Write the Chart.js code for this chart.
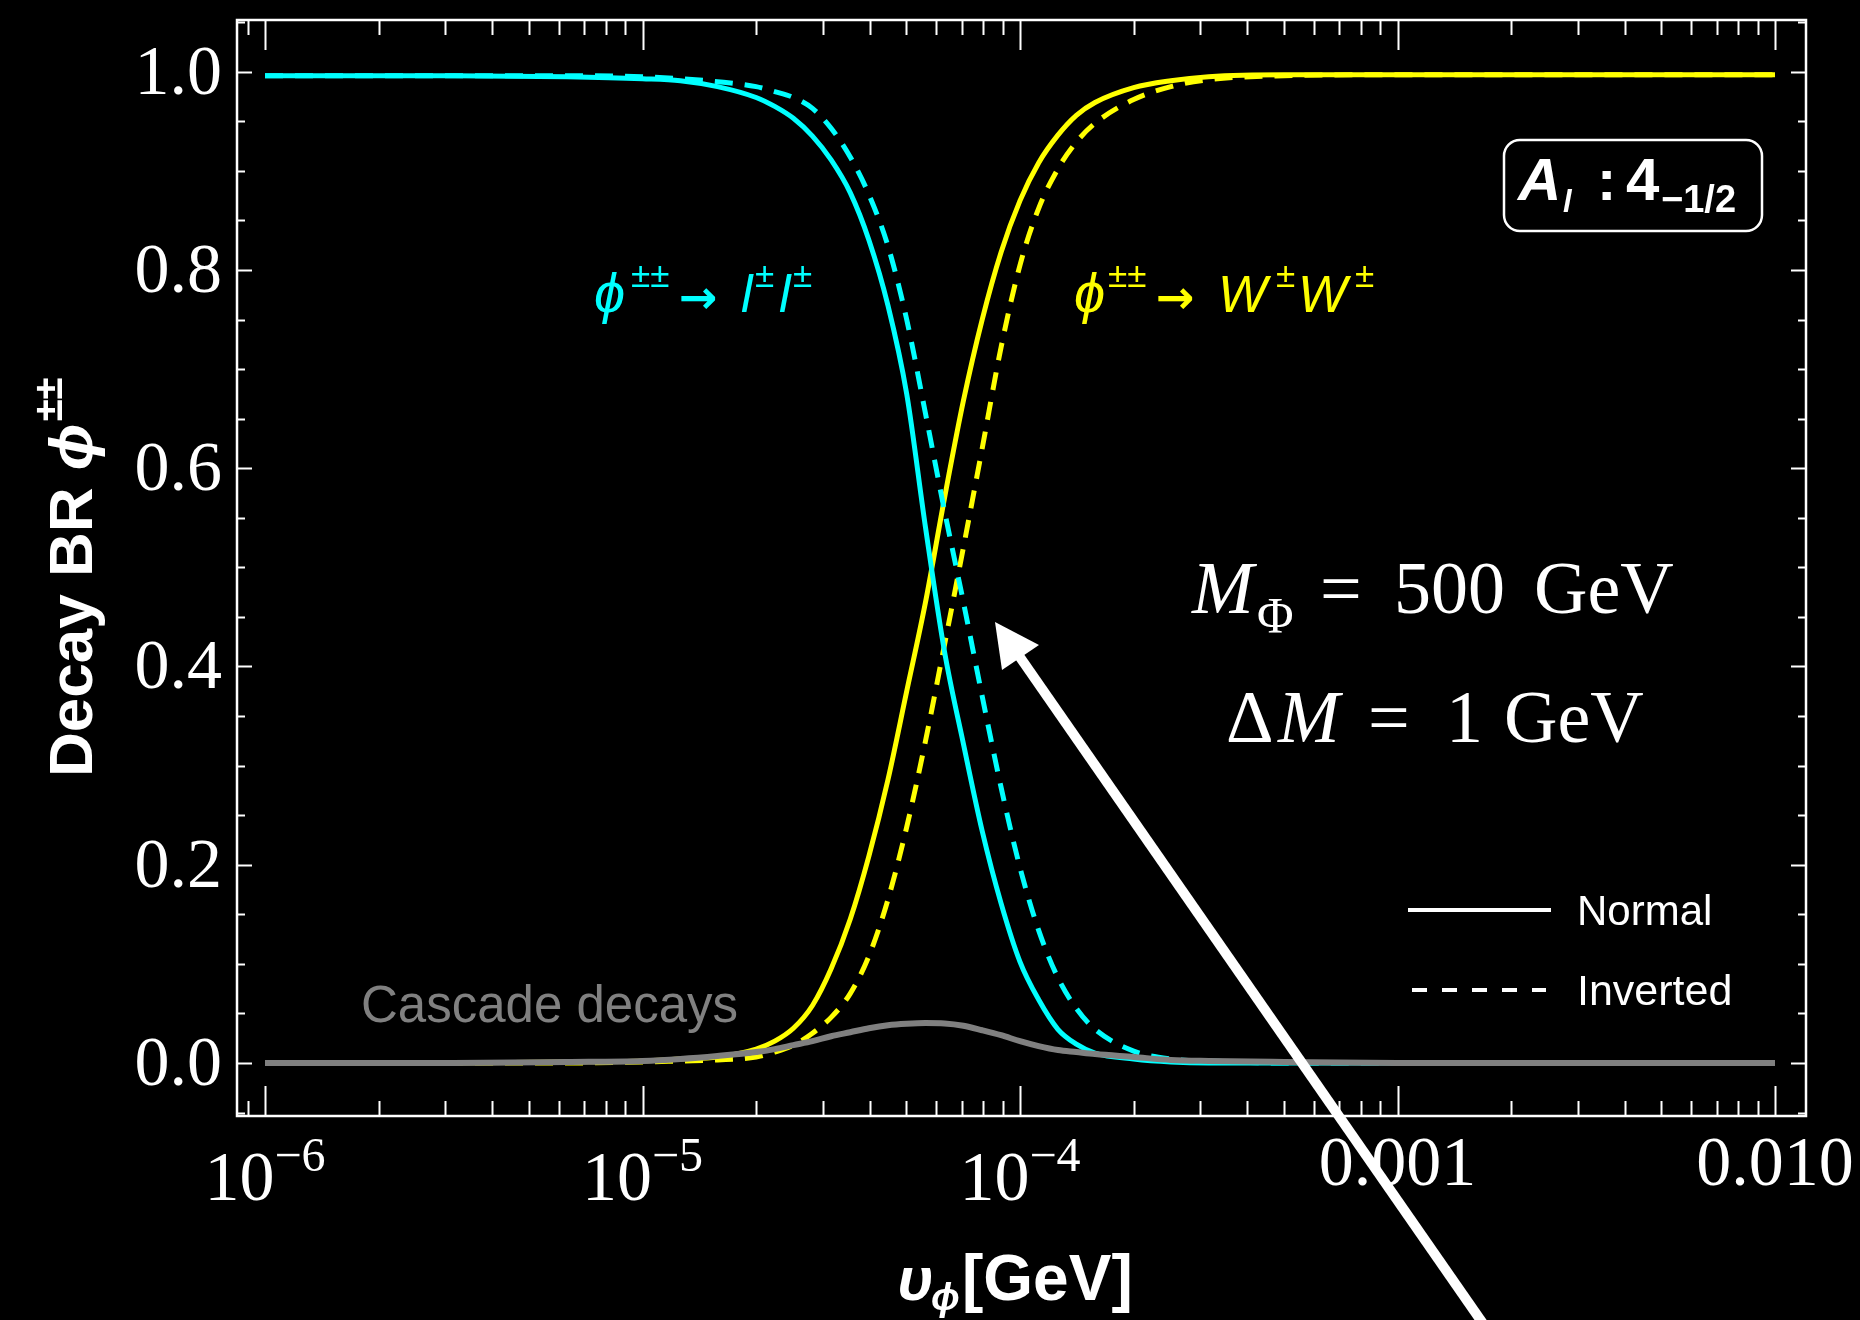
<!DOCTYPE html>
<html>
<head>
<meta charset="utf-8">
<script src="https://cdn.jsdelivr.net/npm/chart.js@4.4.1/dist/chart.umd.min.js"></script>
<style>
  html, body { margin: 0; padding: 0; background: #000; }
  canvas { display: block; }
</style>
</head>
<body>
<canvas id="brChart" width="1860" height="1320"></canvas>
<script>
const vPhi = [1e-6, 3.16e-6, 6.31e-6, 1e-5, 1.26e-5, 1.58e-5, 2.0e-5, 2.24e-5, 2.51e-5, 2.82e-5,
  3.16e-5, 3.55e-5, 3.98e-5, 4.47e-5, 5.01e-5, 5.62e-5, 6.31e-5, 7.08e-5, 7.94e-5, 8.91e-5,
  1e-4, 1.12e-4, 1.26e-4, 1.41e-4, 1.58e-4, 2.0e-4, 2.51e-4, 3.16e-4, 5.01e-4, 1e-3,
  3.16e-3, 1e-2];

// phi++ -> l l
const llNormal = [0.996, 0.996, 0.995, 0.993, 0.991, 0.985, 0.974, 0.965, 0.953, 0.935,
  0.911, 0.878, 0.830, 0.764, 0.675, 0.540, 0.415, 0.322, 0.234, 0.161,
  0.102, 0.064, 0.034, 0.019, 0.010, 0.004, 0.001, 0.0, 0.0, 0.0,
  0.0, 0.0];
const llInverted = [0.996, 0.996, 0.996, 0.995, 0.993, 0.990, 0.985, 0.980, 0.974, 0.963,
  0.943, 0.914, 0.876, 0.824, 0.750, 0.655, 0.557, 0.465, 0.370, 0.278,
  0.197, 0.134, 0.086, 0.055, 0.034, 0.012, 0.004, 0.002, 0.0, 0.0,
  0.0, 0.0];

// phi++ -> W W
const wwNormal = [0.0, 0.0, 0.001, 0.002, 0.004, 0.006, 0.014, 0.022, 0.035, 0.058,
  0.095, 0.145, 0.209, 0.286, 0.375, 0.465, 0.570, 0.668, 0.750, 0.818,
  0.870, 0.908, 0.936, 0.956, 0.969, 0.984, 0.991, 0.995, 0.997, 0.997,
  0.997, 0.997];
const wwInverted = [0.0, 0.0, 0.0, 0.001, 0.002, 0.003, 0.006, 0.011, 0.018, 0.030,
  0.046, 0.070, 0.108, 0.165, 0.238, 0.325, 0.422, 0.520, 0.620, 0.722,
  0.805, 0.862, 0.902, 0.929, 0.948, 0.972, 0.985, 0.992, 0.996, 0.997,
  0.997, 0.997];

// cascade decays
const cascade = [0.0, 0.0, 0.001, 0.002, 0.004, 0.007, 0.011, 0.014, 0.018, 0.022,
  0.027, 0.031, 0.035, 0.038, 0.0395, 0.0402, 0.0398, 0.0375, 0.033, 0.028,
  0.022, 0.017, 0.013, 0.011, 0.009, 0.006, 0.003, 0.002, 0.001, 0.0,
  0.0, 0.0];

// ticks
const xMajorTicks = [1e-6, 1e-5, 1e-4, 1e-3, 1e-2];
const xTickBase = ['10', '10', '10', '0.001', '0.010'];
const xTickExp = ['\u22126', '\u22125', '\u22124', '', ''];
const yMajorTicks = [0, 0.2, 0.4, 0.6, 0.8, 1.0];
const yTickLabels = ['0.0', '0.2', '0.4', '0.6', '0.8', '1.0'];

const X_MIN = 8.43e-7, X_MAX = 1.208e-2;
const Y_MIN = -0.0535, Y_MAX = 1.0522;

const SERIF = '"Liberation Serif", "Times New Roman", serif';
const SANS = '"Liberation Sans", Arial, Helvetica, "DejaVu Sans", sans-serif';
const CYAN = '#00ffff', YELLOW = '#ffff00', GRAY = '#808080';

function pts(arr) { return vPhi.map((v, i) => ({ x: v, y: arr[i] })); }

// minor ticks: 2..9 x each decade, and every 0.05 on y
const xMinorTicks = [];
[1e-7, 1e-6, 1e-5, 1e-4, 1e-3, 1e-2].forEach(d => {
  for (let k = 2; k <= 9; k++) {
    const v = d * k;
    if (v > X_MIN && v < X_MAX) xMinorTicks.push(v);
  }
});
const yMinorTicks = [];
for (let i = -1; i <= 21; i++) if (i % 4 !== 0) yMinorTicks.push(i * 0.05);

function put(ctx, t, font, color, x, y) {
  ctx.font = font; ctx.fillStyle = color; ctx.fillText(t, x, y);
}

const framePlugin = {
  id: 'frameTicks',
  beforeDraw(chart) {
    const { ctx, width, height } = chart;
    ctx.save();
    ctx.fillStyle = '#000';
    ctx.fillRect(0, 0, width, height);
    ctx.restore();
  },
  beforeDatasetsDraw(chart) {
    const { ctx, chartArea: a, scales: { x, y } } = chart;
    ctx.save();
    ctx.strokeStyle = '#fff';
    ctx.lineWidth = 2.5;
    ctx.strokeRect(a.left, a.top, a.right - a.left, a.bottom - a.top);
    ctx.lineWidth = 2;
    ctx.beginPath();
    const xt = (v, len) => {
      const p = Math.round(x.getPixelForValue(v)) + 0.5;
      ctx.moveTo(p, a.bottom); ctx.lineTo(p, a.bottom - len);
      ctx.moveTo(p, a.top); ctx.lineTo(p, a.top + len);
    };
    const yt = (v, len) => {
      const p = Math.round(y.getPixelForValue(v)) + 0.5;
      ctx.moveTo(a.left, p); ctx.lineTo(a.left + len, p);
      ctx.moveTo(a.right, p); ctx.lineTo(a.right - len, p);
    };
    xMajorTicks.forEach(v => xt(v, 30));
    xMinorTicks.forEach(v => xt(v, 15));
    yMajorTicks.forEach(v => yt(v, 15));
    yMinorTicks.forEach(v => yt(v, 8));
    ctx.stroke();

    // tick labels
    ctx.fillStyle = '#fff';
    ctx.textBaseline = 'alphabetic';
    ctx.textAlign = 'right';
    ctx.font = '70px ' + SERIF;
    yMajorTicks.forEach((v, i) => ctx.fillText(yTickLabels[i], a.left - 15, y.getPixelForValue(v) + 22));

    xMajorTicks.forEach((v, i) => {
      const p = x.getPixelForValue(v);
      if (xTickExp[i]) {
        ctx.font = '70px ' + SERIF;
        const wb = ctx.measureText(xTickBase[i]).width;
        ctx.font = '48px ' + SERIF;
        const we = ctx.measureText(xTickExp[i]).width;
        const x0 = p - (wb + we) / 2;
        ctx.textAlign = 'left';
        put(ctx, xTickBase[i], '70px ' + SERIF, '#fff', x0, 1200);
        put(ctx, xTickExp[i], '48px ' + SERIF, '#fff', x0 + wb, 1171);
      } else {
        ctx.textAlign = 'center';
        put(ctx, xTickBase[i], '70px ' + SERIF, '#fff', p, 1185);
      }
    });
    ctx.restore();
  },
  afterDraw(chart) {
    const { ctx } = chart;
    ctx.save();
    ctx.textAlign = 'left';
    ctx.textBaseline = 'alphabetic';

    // y axis title
    ctx.save();
    ctx.translate(92, 777);
    ctx.rotate(-Math.PI / 2);
    ctx.font = 'bold 62px ' + SANS;
    ctx.fillStyle = '#fff';
    ctx.fillText('Decay BR ', 0, 0);
    let w = ctx.measureText('Decay BR ').width;
    ctx.font = 'italic bold 62px ' + SANS;
    ctx.fillText('\u03D5', w, 0);
    w += ctx.measureText('\u03D5').width + 2;
    ctx.font = 'bold 40px ' + SANS;
    ctx.fillText('\u00B1\u00B1', w, -30);
    ctx.restore();

    // x axis title
    put(ctx, '\u03C5', 'italic bold 62px ' + SANS, '#fff', 897, 1300);
    put(ctx, '\u03D5', 'italic bold 38px ' + SANS, '#fff', 931, 1310);
    put(ctx, '[GeV]', 'bold 64px ' + SANS, '#fff', 962, 1300);

    // channel labels
    const it = 'italic 56px ' + SANS, il = 'italic 52px ' + SANS;
    const sup = '35px ' + SANS, arr = 'bold 46px "DejaVu Sans", ' + SANS;
    put(ctx, '\u03D5', it, CYAN, 594, 312);
    put(ctx, '\u00B1\u00B1', sup, CYAN, 631, 287);
    put(ctx, '\u2192', arr, CYAN, 679, 313);
    put(ctx, 'l', il, CYAN, 741, 312);
    put(ctx, '\u00B1', sup, CYAN, 755, 287);
    put(ctx, 'l', il, CYAN, 779, 312);
    put(ctx, '\u00B1', sup, CYAN, 793, 287);

    put(ctx, '\u03D5', it, YELLOW, 1074, 312);
    put(ctx, '\u00B1\u00B1', sup, YELLOW, 1108, 287);
    put(ctx, '\u2192', arr, YELLOW, 1156, 313);
    put(ctx, 'W', il, YELLOW, 1218, 312);
    put(ctx, '\u00B1', sup, YELLOW, 1276, 287);
    put(ctx, 'W', il, YELLOW, 1298, 312);
    put(ctx, '\u00B1', sup, YELLOW, 1355, 287);

    put(ctx, 'Cascade decays', '51px ' + SANS, GRAY, 361, 1022);

    // mass parameters
    const tm = '74px ' + SERIF, ti = 'italic 74px ' + SERIF;
    put(ctx, 'M', ti, '#fff', 1192, 613);
    put(ctx, '\u03A6', '50px ' + SERIF, '#fff', 1257, 632);
    put(ctx, '=', tm, '#fff', 1320, 613);
    put(ctx, '500', tm, '#fff', 1394, 613);
    put(ctx, 'GeV', tm, '#fff', 1534, 613);
    put(ctx, '\u0394', tm, '#fff', 1226, 742);
    put(ctx, 'M', ti, '#fff', 1278, 742);
    put(ctx, '=', tm, '#fff', 1368, 742);
    put(ctx, '1', tm, '#fff', 1446, 742);
    put(ctx, 'GeV', tm, '#fff', 1504, 742);

    // representation box
    ctx.strokeStyle = '#fff';
    ctx.lineWidth = 2.5;
    ctx.beginPath();
    ctx.roundRect(1504, 140, 258, 91, 16);
    ctx.stroke();
    put(ctx, 'A', 'italic bold 60px ' + SANS, '#fff', 1518, 200);
    put(ctx, 'l', 'italic bold 31px ' + SANS, '#fff', 1563, 212);
    put(ctx, ':', 'bold 58px ' + SANS, '#fff', 1597, 200);
    put(ctx, '4', 'bold 60px ' + SANS, '#fff', 1626, 200);
    put(ctx, '\u22121/2', 'bold 38px ' + SANS, '#fff', 1661, 212);

    // line-style legend
    ctx.lineWidth = 4;
    ctx.beginPath();
    ctx.moveTo(1408, 910); ctx.lineTo(1551, 910);
    ctx.stroke();
    ctx.setLineDash([15, 15]);
    ctx.beginPath();
    ctx.moveTo(1412, 990); ctx.lineTo(1546, 990);
    ctx.stroke();
    ctx.setLineDash([]);
    put(ctx, 'Normal', '42px ' + SANS, '#fff', 1577, 925);
    put(ctx, 'Inverted', '43px ' + SANS, '#fff', 1577, 1005);

    // arrow
    ctx.fillStyle = '#fff';
    ctx.lineWidth = 10;
    ctx.beginPath();
    ctx.moveTo(1015, 650); ctx.lineTo(1500, 1348);
    ctx.stroke();
    ctx.beginPath();
    ctx.moveTo(995, 622); ctx.lineTo(1039, 645); ctx.lineTo(1002, 670);
    ctx.closePath();
    ctx.fill();

    ctx.restore();
  }
};

function ds(label, arr, color, dashed, order, width) {
  return {
    label, data: pts(arr), borderColor: color, borderWidth: width || 5,
    borderDash: dashed ? [18, 12] : [], pointRadius: 0, fill: false,
    cubicInterpolationMode: 'monotone', order
  };
}

new Chart(document.getElementById('brChart'), {
  type: 'line',
  data: {
    datasets: [
      ds('Cascade decays', cascade, GRAY, false, 0, 6),
      ds('ll inverted', llInverted, CYAN, true, 1),
      ds('ll normal', llNormal, CYAN, false, 2),
      ds('WW inverted', wwInverted, YELLOW, true, 3),
      ds('WW normal', wwNormal, YELLOW, false, 4),
    ],
  },
  options: {
    responsive: false,
    animation: false,
    devicePixelRatio: 1,
    layout: { padding: { left: 237, right: 54, top: 20, bottom: 204 } },
    plugins: { legend: { display: false }, tooltip: { enabled: false } },
    scales: {
      x: { type: 'logarithmic', min: X_MIN, max: X_MAX, display: false },
      y: { type: 'linear', min: Y_MIN, max: Y_MAX, display: false },
    },
  },
  plugins: [framePlugin],
});
</script>
</body>
</html>
